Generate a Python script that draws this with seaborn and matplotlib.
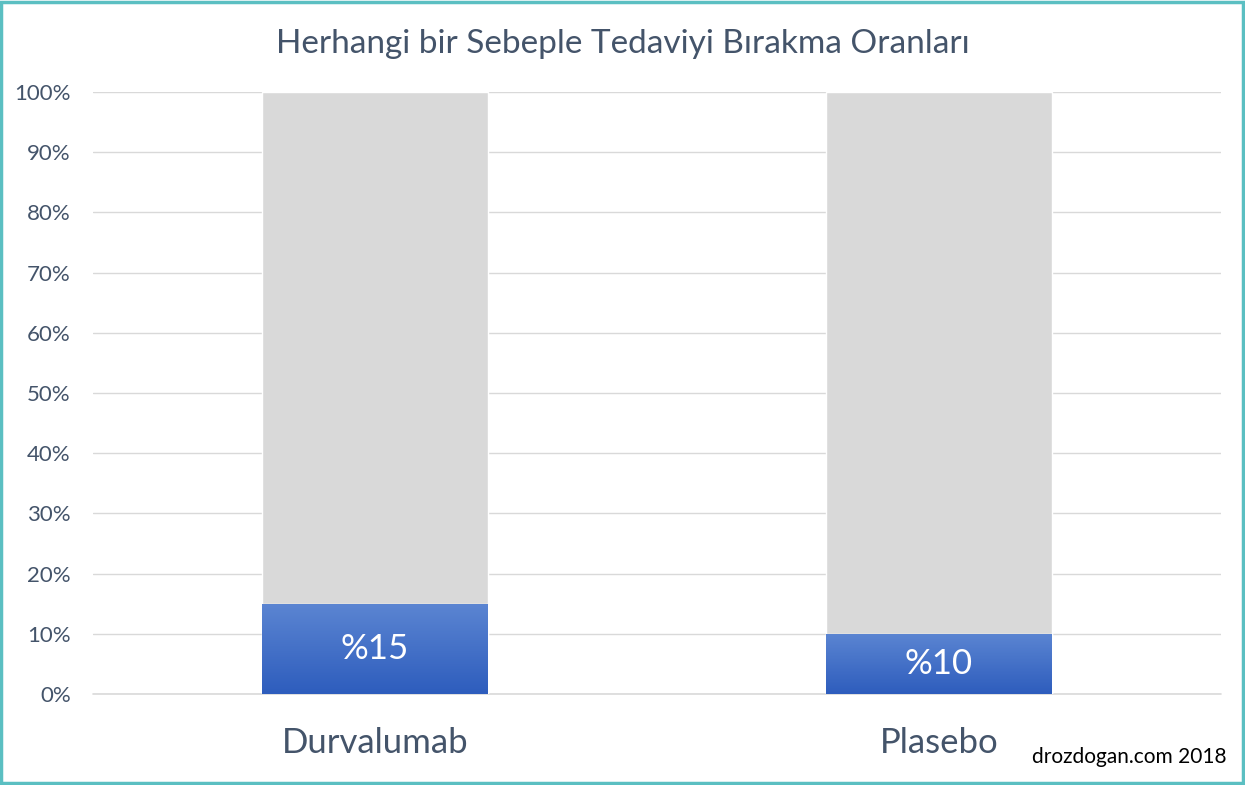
import numpy as np
import pandas as pd
import seaborn as sns
import matplotlib
import matplotlib.pyplot as plt
from matplotlib.patches import Rectangle
from matplotlib.colors import LinearSegmentedColormap

# chart values
groups = ['Durvalumab', 'Plasebo']
stop_pct = [15, 10]
total_pct = [100, 100]
bar_labels = ['%15', '%10']
yticks = [0, 10, 20, 30, 40, 50, 60, 70, 80, 90, 100]

sns.set_theme(style='white')
plt.rcParams['font.family'] = ['Lato', 'DejaVu Sans']

text_col = '#44546a'
df = pd.DataFrame({'group': groups, 'stop': stop_pct, 'total': total_pct})

fig = plt.figure(figsize=(12.45, 7.85), dpi=100)
ax = fig.add_axes([93 / 1245, 1 - 694 / 785, 1128 / 1245, 602 / 785])

# grey background bar (100%) and the blue part on top of it
sns.barplot(data=df, x='group', y='total', color='#d9d9d9', width=0.4,
            saturation=1, ax=ax, zorder=2)
sns.barplot(data=df, x='group', y='stop', color='#4472c4', width=0.4,
            saturation=1, ax=ax, zorder=3)

# gradient fill for the blue bars
cmap = LinearSegmentedColormap.from_list('blu', ['#2e5dbd', '#5b85d2'])
blue_bars = ax.patches[len(groups):]
for p, lab in zip(blue_bars, bar_labels):
    x0, y0 = p.get_x(), p.get_y()
    w, h = p.get_width(), p.get_height()
    grad = np.linspace(0, 1, 100).reshape(-1, 1)
    im = ax.imshow(grad, cmap=cmap, origin='lower', aspect='auto',
                   extent=[x0, x0 + w, y0, y0 + h], zorder=4)
    im.set_clip_path(p)
    ax.text(x0 + w / 2, y0 + h / 2, lab, color='white', fontsize=25,
            ha='center', va='center', zorder=5)

ax.set_xlim(-0.5, 1.5)
ax.set_ylim(0, 100)
ax.set_yticks(yticks)
ax.set_yticklabels([f'{t}%' for t in yticks], fontsize=16, color=text_col)
ax.tick_params(axis='y', length=0, pad=16)
ax.tick_params(axis='x', length=0, pad=24, labelsize=25, labelcolor=text_col)
ax.set_xlabel('')
ax.set_ylabel('')
ax.yaxis.grid(True, color='#d9d9d9', lw=1)
ax.axhline(0, color='#d9d9d9', lw=1.2, zorder=1, clip_on=False)
ax.set_axisbelow(True)
for s in ax.spines.values():
    s.set_visible(False)

fig.text(0.5, 1 - 44 / 785, 'Herhangi bir Sebeple Tedaviyi Bırakma Oranları',
         ha='center', va='center', fontsize=24, color=text_col)
fig.text(1226 / 1245, 1 - 757 / 785, 'drozdogan.com 2018', ha='right',
         va='center', fontsize=15, color='black')

# teal frame round the figure
fig.patches.append(Rectangle((0.001, 0.002), 0.997, 0.996, transform=fig.transFigure,
                             fill=False, edgecolor='#5bbfc2', lw=2.5))

fig.savefig('out.png', dpi=100)
